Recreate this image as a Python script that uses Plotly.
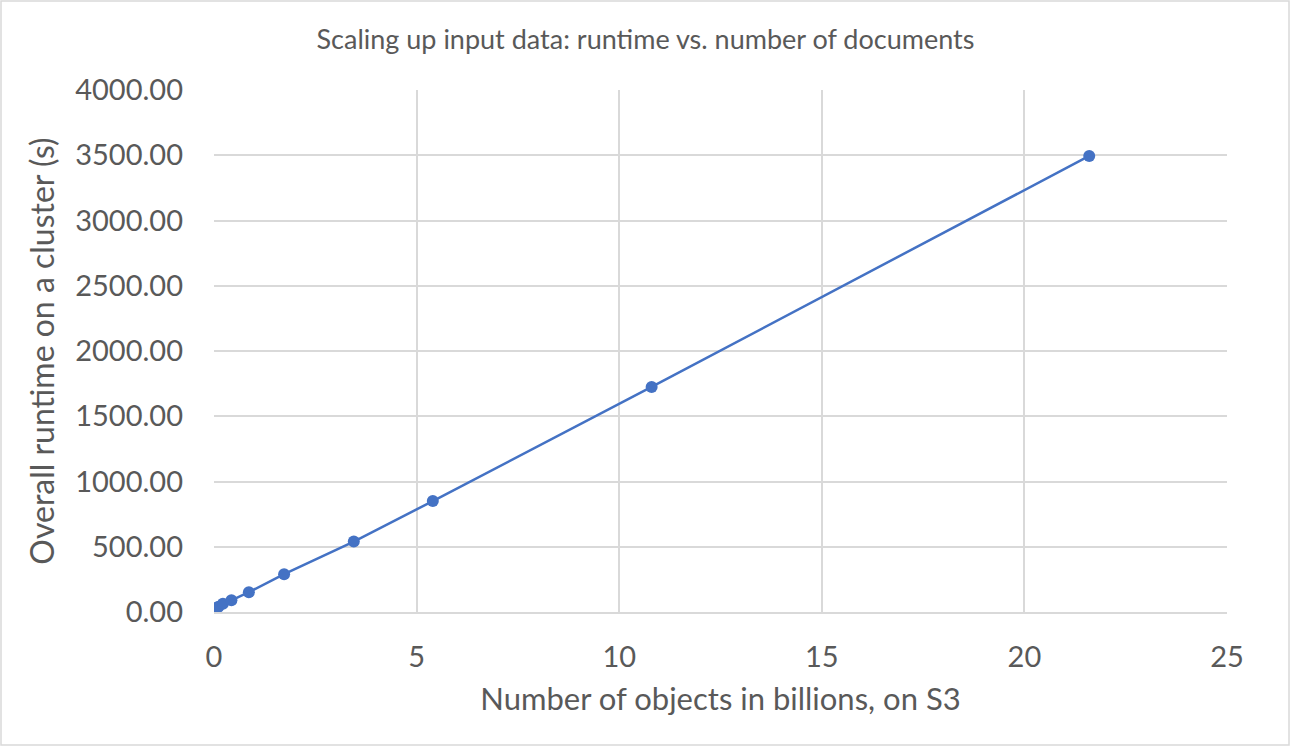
import plotly.graph_objects as go

# 문서 수(십억 단위)와 클러스터 전체 실행 시간(초)
objects_billions = [0.05, 0.11, 0.22, 0.43, 0.86, 1.73, 3.45, 5.4, 10.8, 21.6]
runtime_seconds = [30, 40, 64, 90, 152, 290, 540, 850, 1725, 3495]

x_ticks = [0, 5, 10, 15, 20, 25]
y_ticks = [0, 500, 1000, 1500, 2000, 2500, 3000, 3500, 4000]

line_color = "#4472C4"
text_color = "#595959"
grid_color = "#D9D9D9"
font_family = "Lato, 'Open Sans', sans-serif"

fig = go.Figure()
fig.add_trace(
    go.Scatter(
        x=objects_billions,
        y=runtime_seconds,
        mode="lines+markers",
        line={"color": line_color, "width": 2.5},
        marker={"color": line_color, "size": 12},
        showlegend=False,
    )
)

fig.update_layout(
    width=1291,
    height=747,
    paper_bgcolor="white",
    plot_bgcolor="white",
    font={"family": font_family, "color": text_color},
    margin={"l": 214, "r": 64, "t": 90, "b": 135},
    title={
        "text": "Scaling up input data: runtime vs. number of documents",
        "x": 0.5,
        "xref": "container",
        "xanchor": "center",
        "y": 1 - 40 / 747,
        "yanchor": "middle",
        "font": {"size": 27, "color": text_color},
    },
    xaxis={
        "range": [0, 25],
        "tickvals": x_ticks,
        "showgrid": True,
        "gridcolor": grid_color,
        "gridwidth": 1.5,
        "zeroline": False,
        "showline": True,
        "linecolor": grid_color,
        "linewidth": 1.5,
        "tickfont": {"size": 29},
        "ticks": "",
        "ticklabelstandoff": 18,
        "title": {"text": "Number of objects in billions, on S3", "font": {"size": 31}, "standoff": 17},
    },
    yaxis={
        "range": [0, 4000],
        "tickvals": y_ticks,
        "tickformat": ".2f",
        "showgrid": True,
        "gridcolor": grid_color,
        "gridwidth": 1.5,
        "zeroline": False,
        "showline": False,
        "tickfont": {"size": 29},
        "ticks": "",
        "ticklabelstandoff": 30,
        "title": {"text": "Overall runtime on a cluster (s)", "font": {"size": 32}, "standoff": 11},
    },
    shapes=[
        {
            "type": "rect",
            "xref": "paper",
            "yref": "paper",
            "x0": -213 / 1013,
            "x1": 1 + 62 / 1013,
            "y0": -133 / 522,
            "y1": 1 + 89 / 522,
            "line": {"color": grid_color, "width": 1.5},
        }
    ],
)

fig.write_html(
    "out.html",
    config={"displayModeBar": False},
    post_script="document.body.style.margin='0';",
)
